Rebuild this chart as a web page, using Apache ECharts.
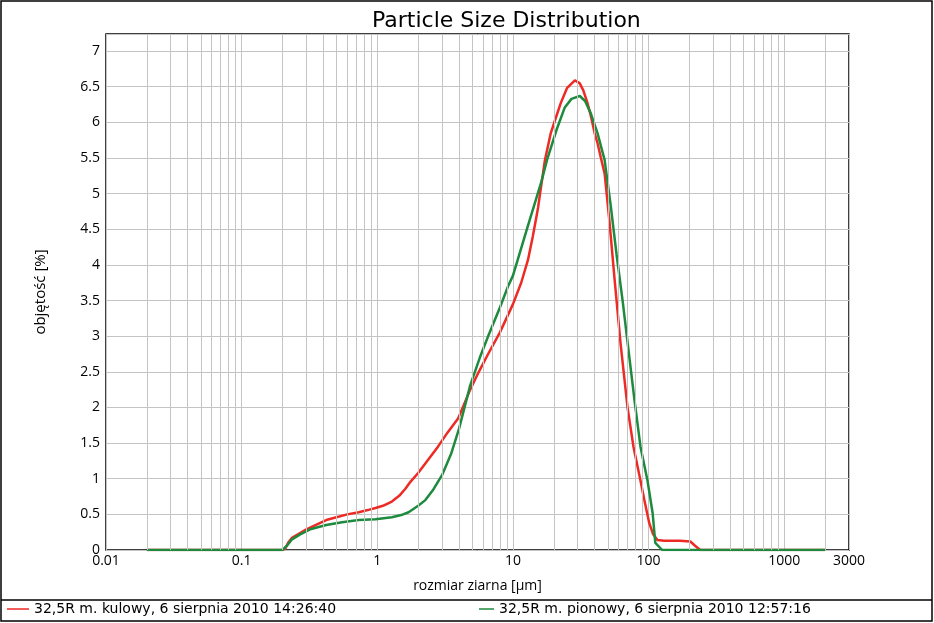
<!DOCTYPE html>
<html>
<head>
<meta charset="utf-8">
<script src="https://cdn.jsdelivr.net/npm/echarts@6/dist/echarts.min.js"></script>
<style>
  html, body { margin: 0; padding: 0; background: #fff; }
  #chart { width: 934px; height: 623px; }
</style>
</head>
<body>
<div id="chart"></div>
<script>
// rozmiar ziarna [um] / objetosc [%]
const kulowyName = '32,5R m. kulowy, 6 sierpnia 2010 14:26:40'
const kulowySize = [0.02, 0.2, 0.21, 0.22, 0.235, 0.26, 0.3, 0.35, 0.42, 0.5,
  0.6, 0.73, 0.85, 0.97, 1.1, 1.28, 1.45, 1.61, 1.76, 2.0,
  2.4, 2.8, 3.3, 3.95, 4.84, 5.6, 6.56, 8, 10, 11.5,
  12.9, 14, 15.3, 17.2, 19, 21, 22.5, 25, 28.6, 31,
  33, 35.3, 37.4, 40, 42.1, 44.5, 47.4, 51.5, 56.1, 62.1,
  69.9, 77.3, 87, 93, 101, 108, 116, 130, 170, 203,
  220, 240, 2000]
const kulowyVol = [0, 0, 0.02, 0.1, 0.17, 0.22, 0.29, 0.35, 0.42, 0.46,
  0.5, 0.53, 0.56, 0.59, 0.62, 0.68, 0.76, 0.86, 0.96, 1.08,
  1.28, 1.45, 1.65, 1.85, 2.25, 2.5, 2.75, 3.05, 3.45, 3.75,
  4.07, 4.4, 4.8, 5.47, 5.85, 6.1, 6.27, 6.48, 6.59, 6.55,
  6.45, 6.28, 6.1, 5.85, 5.7, 5.5, 5.28, 4.6, 3.8, 2.9,
  2.0, 1.45, 0.98, 0.7, 0.38, 0.22, 0.14, 0.13, 0.13, 0.12,
  0.06, 0, 0]

const pionowyName = '32,5R m. pionowy, 6 sierpnia 2010 12:57:16'
const pionowySize = [0.02, 0.2, 0.206, 0.22, 0.235, 0.27, 0.32, 0.42, 0.55, 0.73,
  0.97, 1.28, 1.5, 1.7, 2.0, 2.26, 2.59, 3.0, 3.5, 4.0,
  4.84, 5.7, 6.56, 8, 9.2, 10, 12.9, 16.1, 18, 21,
  24.1, 27, 31.1, 34, 37.4, 42, 47.4, 52.5, 58, 64.3,
  71.1, 78.7, 87.1, 98, 107, 112, 126, 2000]
const pionowyVol = [0, 0, 0.01, 0.08, 0.15, 0.22, 0.29, 0.35, 0.39, 0.42,
  0.43, 0.46, 0.49, 0.53, 0.62, 0.7, 0.85, 1.05, 1.35, 1.7,
  2.31, 2.7, 3.0, 3.4, 3.7, 3.85, 4.55, 5.15, 5.5, 5.9,
  6.21, 6.33, 6.37, 6.3, 6.13, 5.85, 5.47, 4.84, 4.15, 3.5,
  2.8, 2.1, 1.45, 0.98, 0.52, 0.1, 0, 0]

// minor log grid lines: 2..9 in every decade
const decades = [0.01, 0.1, 1, 10, 100, 1000]
const minorSteps = [2, 3, 4, 5, 6, 7, 8, 9]

const xMin = 0.01, xMax = 3000
const font = 'Open Sans'
const gridColor = '#c4c4c4'

function pairs(xs, ys) {
  return xs.map((x, i) => [x, ys[i]])
}

let minorLines = []
decades.forEach(d => {
  minorSteps.forEach(k => {
    let v = +(k * d).toPrecision(3)
    if (v < xMax) minorLines.push({ xAxis: v })
  })
})

const chart = echarts.init(document.getElementById('chart'))
chart.setOption({
  animation: false,
  backgroundColor: '#fff',
  textStyle: { fontFamily: font, color: '#000' },
  title: {
    text: 'Particle Size Distribution',
    left: 372,
    top: 10,
    padding: 0,
    textStyle: { fontFamily: 'DejaVu Sans', fontSize: 22, fontWeight: 'normal', color: '#000' }
  },
  grid: {
    left: 106, right: 85, top: 34, bottom: 73,
    show: true, borderColor: '#000', borderWidth: 1.5, backgroundColor: 'transparent'
  },
  legend: [
    {
      data: [kulowyName], left: 7, top: 602, padding: 0,
      icon: 'rect', itemWidth: 22, itemHeight: 1.5,
      textStyle: { fontSize: 14, color: '#000', fontFamily: 'DejaVu Sans' }
    },
    {
      data: [pionowyName], left: 479, top: 602, padding: 0,
      icon: 'rect', itemWidth: 15, itemHeight: 1.5,
      textStyle: { fontSize: 14, color: '#000', fontFamily: 'DejaVu Sans' }
    }
  ],
  xAxis: {
    type: 'log', logBase: 10, min: xMin, max: xMax,
    name: 'rozmiar ziarna [µm]', nameLocation: 'middle', nameGap: 29,
    nameTextStyle: { fontSize: 14, color: '#000' },
    axisLine: { show: false },
    axisTick: { show: false },
    axisLabel: {
      fontSize: 14, color: '#000', margin: 4, showMinLabel: true, showMaxLabel: true,
      formatter: v => String(+Number(v).toPrecision(4))
    },
    splitLine: { show: true, lineStyle: { color: gridColor, width: 1 } }
  },
  yAxis: {
    type: 'value', min: 0, max: 7.24, interval: 0.5,
    name: 'objętość [%]', nameLocation: 'middle', nameGap: 58, nameRotate: 90,
    nameTextStyle: { fontSize: 15, color: '#000' },
    axisLine: { show: false },
    axisTick: { show: false },
    axisLabel: { fontSize: 14, color: '#000', margin: 6, showMaxLabel: false },
    splitLine: { show: true, lineStyle: { color: gridColor, width: 1 } }
  },
  series: [
    {
      // only carries the minor grid lines
      type: 'line', data: [], z: 1, silent: true,
      markLine: {
        silent: true, symbol: ['none', 'none'], label: { show: false },
        lineStyle: { color: gridColor, type: 'solid', width: 1 },
        emphasis: { disabled: true },
        data: minorLines
      }
    },
    {
      name: kulowyName, type: 'line', data: pairs(kulowySize, kulowyVol),
      showSymbol: false, symbol: 'none', z: 3,
      color: '#ee2a24', lineStyle: { width: 2.5, color: '#ee2a24' }
    },
    {
      name: pionowyName, type: 'line', data: pairs(pionowySize, pionowyVol),
      showSymbol: false, symbol: 'none', z: 4,
      color: '#1e8a3e', lineStyle: { width: 2.5, color: '#1e8a3e' }
    }
  ],
  graphic: [
    // outer frame and legend box line
    { type: 'rect', shape: { x: 1, y: 1, width: 931, height: 620 }, style: { fill: 'none', stroke: '#000', lineWidth: 1.5 }, silent: true },
    { type: 'line', shape: { x1: 1, y1: 600, x2: 932, y2: 600 }, style: { stroke: '#000', lineWidth: 1.5 }, silent: true }
  ]
})
</script>
</body>
</html>
